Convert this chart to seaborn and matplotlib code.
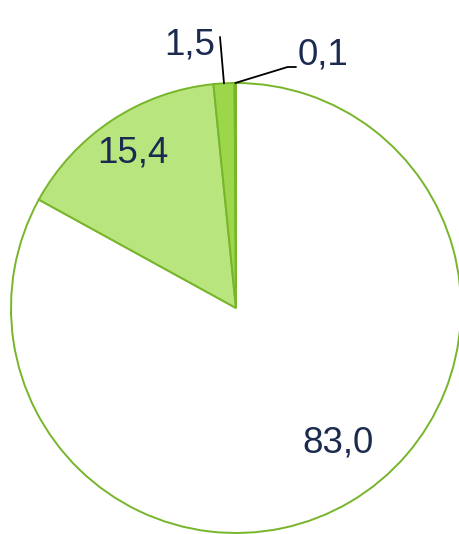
import numpy as np
import seaborn as sns
import matplotlib.pyplot as plt

# Datos
valores = [83.0, 15.4, 1.5, 0.1]
etiquetas = ["83,0", "15,4", "1,5", "0,1"]
colores = ["#FFFFFF", "#B8E57E", "#9BD64B", "#7BC234"]

sns.set_style("white")
plt.rcParams['font.family'] = ['Liberation Sans', 'DejaVu Sans']

fig = plt.figure(figsize=(4.6, 5.34), dpi=100)
ax = fig.add_axes([0, 0, 1, 1])

centro = (236, 226)
radio = 225
ax.pie(valores, colors=colores, startangle=90, counterclock=False,
       center=centro, radius=radio,
       wedgeprops=dict(edgecolor="#77B52B", linewidth=1.4))
ax.set_xlim(0, 460)
ax.set_ylim(0, 534)
ax.set_aspect("equal")
ax.axis("off")

color_txt = "#1B2A4F"
fs = 26.5

# Puntos medios de cada porcion sobre el borde
frac = np.array(valores) / sum(valores)
medio = np.cumsum(frac) - frac / 2
ang = np.deg2rad(90 - 360 * medio)
px = centro[0] + radio * np.cos(ang)
py = centro[1] + radio * np.sin(ang)

ax.text(338, 91, etiquetas[0], fontsize=fs, color=color_txt, ha="center", va="center")
ax.text(133, 381, etiquetas[1], fontsize=fs, color=color_txt, ha="center", va="center")
ax.text(190, 489, etiquetas[2], fontsize=fs, color=color_txt, ha="center", va="center")
ax.text(323, 479, etiquetas[3], fontsize=fs, color=color_txt, ha="center", va="center")

# Lineas guia
ax.annotate("", xy=(px[2], py[2]), xytext=(220, 497),
            arrowprops=dict(arrowstyle="-", color="black", lw=1.3, shrinkA=0, shrinkB=0))
ax.annotate("", xy=(px[3], py[3]), xytext=(296, 467),
            arrowprops=dict(arrowstyle="-", color="black", lw=1.3, shrinkA=0, shrinkB=0,
                            connectionstyle="angle,angleA=0,angleB=17,rad=0"))

fig.savefig("out.png", dpi=100)
